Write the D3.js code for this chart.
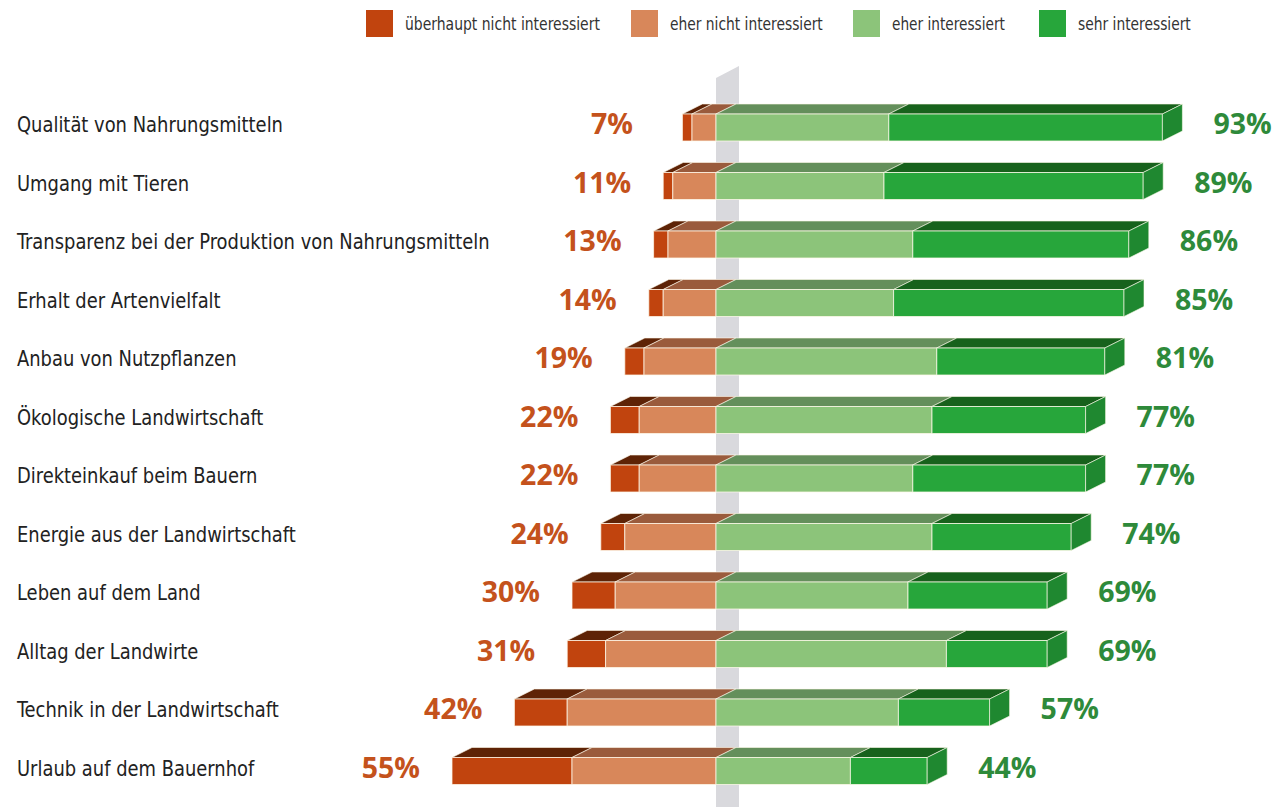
<!DOCTYPE html>
<html><head><meta charset="utf-8">
<script src="https://cdn.jsdelivr.net/npm/d3@7"></script>
<style>html,body{margin:0;padding:0;background:#fff;}svg{display:block;}</style>
</head><body>
<svg id="chart" width="1280" height="807"></svg>
<script>
const categories = [
  "Qualität von Nahrungsmitteln",
  "Umgang mit Tieren",
  "Transparenz bei der Produktion von Nahrungsmitteln",
  "Erhalt der Artenvielfalt",
  "Anbau von Nutzpflanzen",
  "Ökologische Landwirtschaft",
  "Direkteinkauf beim Bauern",
  "Energie aus der Landwirtschaft",
  "Leben auf dem Land",
  "Alltag der Landwirte",
  "Technik in der Landwirtschaft",
  "Urlaub auf dem Bauernhof"
];
const seriesNames = ["überhaupt nicht interessiert", "eher nicht interessiert", "eher interessiert", "sehr interessiert"];
const ueberhauptNicht = [2, 2, 3, 3, 4, 6, 6, 5, 9, 8, 11, 25];
const eherNicht       = [5, 9, 10, 11, 15, 16, 16, 19, 21, 23, 31, 30];
const eherInteressiert = [36, 35, 41, 37, 46, 45, 41, 45, 40, 48, 38, 28];
const sehrInteressiert = [57, 54, 45, 48, 35, 32, 36, 29, 29, 21, 19, 16];
const totalNegLabels = ["7%", "11%", "13%", "14%", "19%", "22%", "22%", "24%", "30%", "31%", "42%", "55%"];
const totalPosLabels = ["93%", "89%", "86%", "85%", "81%", "77%", "77%", "74%", "69%", "69%", "57%", "44%"];

const frontColors = ["#c1440e", "#d8875a", "#8cc47a", "#27a63b"];
const topColors   = ["#5e2306", "#9a5b3c", "#648f5b", "#17621c"];
const sideColor = "#1f8830";
const negLabelColor = "#c4521c";
const posLabelColor = "#2e8a3a";
const condFont = "'Liberation Sans Narrow','DejaVu Sans Condensed','Open Sans',sans-serif";
const numFont = "'Open Sans','Noto Sans',sans-serif";

const svg = d3.select("#chart");
const x = d3.scaleLinear().domain([-55, 93]).range([716 - 55 * 4.8, 716 + 93 * 4.8]);
const y = d3.scalePoint().domain(categories).range([127.5, 771]);
const barH = 27, dX = 20, dY = -10;

// central wall
const cx0 = x(0);
svg.append("polygon")
  .attr("points", [[cx0, 78], [cx0 + 23, 66], [cx0 + 23, 807], [cx0, 807]].map(p => p.join(",")).join(" "))
  .attr("fill", "#d9d9dd");

// legend
const legendX = [366, 631, 853, 1039];
const legendTextW = [195, 153, 113, 113];
seriesNames.forEach((n, i) => {
  svg.append("rect").attr("x", legendX[i]).attr("y", 10).attr("width", 27).attr("height", 27).attr("fill", frontColors[i]);
  const t = svg.append("text").attr("x", 0).attr("y", 0)
    .attr("font-family", condFont).attr("font-size", 17).attr("fill", "#333").text(n);
  const w = t.node().getComputedTextLength();
  const s = Math.min(1, legendTextW[i] / w);
  t.attr("transform", `translate(${legendX[i] + 39},30) scale(${s},1)`);
});

// category labels (horizontally condensed to match the reference's narrow type)
const labels = svg.append("g");
labels.selectAll("text").data(categories).join("text")
  .attr("x", 0).attr("y", 0)
  .attr("font-family", condFont).attr("font-size", 22).attr("fill", "#222").text(d => d);
let maxW = 0;
labels.selectAll("text").each(function () { maxW = Math.max(maxW, this.getComputedTextLength()); });
const sx = Math.min(1, 473 / maxW);
labels.selectAll("text").attr("transform", d => `translate(17,${y(d) + 4.5}) scale(${sx},1)`);

// bars
const rows = categories.map((c, i) => {
  const v = [ueberhauptNicht[i], eherNicht[i], eherInteressiert[i], sehrInteressiert[i]];
  const stops = [-(v[0] + v[1]), -v[1], 0, v[2], v[2] + v[3]];
  return { c, i, v, stops };
});
const pts = a => a.map(p => p.join(",")).join(" ");
const stroke = "rgba(255,250,235,0.75)";
rows.forEach(r => {
  const g = svg.append("g");
  const top = y(r.c) - barH / 2, bot = y(r.c) + barH / 2;
  for (let s = 0; s < 4; s++) {
    const x0 = x(r.stops[s]), x1 = x(r.stops[s + 1]);
    g.append("polygon").attr("points", pts([[x0, top], [x1, top], [x1 + dX, top + dY], [x0 + dX, top + dY]]))
      .attr("fill", topColors[s]).attr("stroke", stroke).attr("stroke-width", 0.8);
  }
  for (let s = 0; s < 4; s++) {
    const x0 = x(r.stops[s]), x1 = x(r.stops[s + 1]);
    g.append("rect").attr("x", x0).attr("y", top).attr("width", x1 - x0).attr("height", barH)
      .attr("fill", frontColors[s]).attr("stroke", stroke).attr("stroke-width", 1);
  }
  const xr = x(r.stops[4]);
  g.append("polygon").attr("points", pts([[xr, top], [xr + dX, top + dY], [xr + dX, bot + dY], [xr, bot]]))
    .attr("fill", sideColor).attr("stroke", stroke).attr("stroke-width", 0.8);
  const xl = x(r.stops[0]);
  g.append("text").attr("x", Math.min(xl - 32, 633)).attr("y", y(r.c) + 6.5).attr("text-anchor", "end")
    .attr("font-family", numFont).attr("font-weight", 700).attr("font-size", 28.5)
    .attr("fill", negLabelColor).text(totalNegLabels[r.i]);
  g.append("text").attr("x", xr + 51).attr("y", y(r.c) + 6.5).attr("text-anchor", "start")
    .attr("font-family", numFont).attr("font-weight", 700).attr("font-size", 28.5)
    .attr("fill", posLabelColor).text(totalPosLabels[r.i]);
});
</script>
</body></html>
